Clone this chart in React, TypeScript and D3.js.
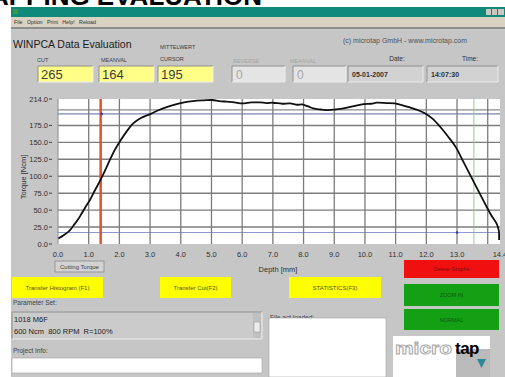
import * as d3 from "d3";

// torque curve
const depth = [0, 0.15, 0.28, 0.4, 0.5, 0.65, 0.77, 0.9, 1.04, 1.2, 1.39, 1.55, 1.69, 1.85, 2.04, 2.25, 2.45, 2.7, 3.02, 3.25, 3.54, 3.75, 4.0, 4.25, 4.52, 4.75, 5.03, 5.25, 5.5, 5.75, 6.0, 6.3, 6.58, 6.8, 7.0, 7.3, 7.56, 7.8, 7.95, 8.15, 8.32, 8.55, 8.8, 9.05, 9.3, 9.6, 9.96, 10.2, 10.38, 10.7, 10.97, 11.2, 11.47, 11.7, 11.95, 12.2, 12.45, 12.7, 12.96, 13.2, 13.46, 13.7, 13.94, 14.12, 14.29, 14.36, 14.37];
const torque = [8, 12, 16, 21, 27, 36, 45, 55, 65, 79, 95, 110, 124, 139, 153, 167, 178, 186, 192, 197, 202, 205, 208, 210, 211.5, 212, 212.5, 211, 210, 209, 207.5, 209, 209, 208, 208.5, 207, 207.5, 205.5, 206, 203, 200, 198.5, 197.5, 198.5, 200, 203, 206.5, 207, 208.5, 208, 207.5, 205, 201.5, 198, 193, 185, 173, 159, 143, 122, 99, 78, 57, 42, 30, 20, 6];

const yTicks = [0, 25, 50, 75, 100, 125, 150, 175, 214];
const xTickLabels = [0, 1, 2, 3, 4, 5, 6, 7, 8, 9, 10, 11, 12, 13, 14.4];
const xGrid = [1, 2, 3, 4, 5, 6, 7, 8, 9, 10, 11, 12, 13, 14];
const cursorLines = [198, 192];
const lowLine = 17;
const cutDepth = 1.39;
const greenDepth = 13.55;

const fieldLabels = ["CUT", "MEANVAL"];
const fieldValues = ["265", "164", "195"];
const yellowButtons = ["Transfer Histogram (F1)", "Transfer Cut(F2)", "STATISTICS(F3)"];

const font = "Arial, 'Liberation Sans', sans-serif";

export default function App() {
  const x = d3.scaleLinear().domain([0, 14.4]).range([58, 500]);
  const y = d3.scaleLinear().domain([0, 214]).range([244, 99]);
  const pts = depth.map((d, i) => [d, torque[i]] as [number, number]);
  const line = d3
    .line<[number, number]>()
    .x((d) => x(d[0]))
    .y((d) => y(d[1]))
    .curve(d3.curveCatmullRom);

  const sunken = (bx: number, by: number, w: number, h: number, fill: string) => (
    <g>
      <rect x={bx} y={by} width={w} height={h} fill={fill} />
      <path d={`M${bx},${by + h}V${by}H${bx + w}`} stroke="#909090" fill="none" />
      <path d={`M${bx + w},${by}V${by + h}H${bx}`} stroke="#ececec" fill="none" />
    </g>
  );

  return (
    <svg
      width={505}
      height={377}
      style={{ position: "absolute", left: 0, top: 0, fontFamily: font }}
    >
      <rect width={505} height={377} fill="#fff" />
      {/* page heading, mostly cut off */}
      <text x={262} y={5} textAnchor="end" fontSize={26} fontWeight="bold" fill="#000">
        TAPPING EVALUATION
      </text>
      {/* window chrome */}
      <rect x={11} y={7} width={494} height={10} fill="#0f8a7a" />
      <rect x={13} y={9} width={5} height={5} fill="#3c9a3c" />
      <rect x={486} y={9} width={5} height={6} fill="#c8c8c0" />
      <rect x={492} y={9} width={5} height={6} fill="#c8c8c0" />
      <rect x={498} y={9} width={6} height={6} fill="#c8c8c0" />
      <rect x={11} y={17} width={494} height={10} fill="#d9d2c2" />
      <text x={14} y={24} fontSize={5.3} fill="#303030" xmlSpace="preserve">
        File   Option   Print   Help!   Reload
      </text>
      <rect x={11} y={27} width={494} height={2} fill="#8e8e8e" />
      <rect x={11} y={29} width={494} height={348} fill="#c6c6c6" />

      {/* header fields */}
      <text x={13} y={48} fontSize={10.5} fill="#202020">WINPCA Data Evaluation</text>
      <text x={343} y={43} fontSize={7} fill="#505050">(c) microtap GmbH - www.microtap.com</text>
      <text x={160} y={49} fontSize={5.5} fill="#404040">MITTELWERT</text>
      <text x={160} y={61} fontSize={5.5} fill="#404040">CURSOR</text>
      {fieldLabels.map((t, i) => (
        <text key={t} x={[37, 101][i]} y={62} fontSize={5.5} fill="#404040">{t}</text>
      ))}
      {fieldValues.map((v, i) => (
        <g key={i}>
          {sunken([38, 99, 158][i], 66, 55, 16, "#ffff88")}
          <text x={[41, 102, 161][i]} y={79} fontSize={13} fill="#404040">{v}</text>
        </g>
      ))}
      <text x={233} y={63} fontSize={5.5} fill="#a4a4a4">REVERSE</text>
      <text x={290} y={63} fontSize={5.5} fill="#a4a4a4">MEANVAL</text>
      {[232, 293].map((bx) => (
        <g key={bx}>
          {sunken(bx, 66, 53, 16, "#e4e4e4")}
          <text x={bx + 4} y={79} fontSize={12} fill="#a8a8a8">0</text>
        </g>
      ))}
      <text x={397} y={61} fontSize={6.5} textAnchor="middle" fill="#303030">Date:</text>
      <text x={470} y={61} fontSize={6.5} textAnchor="middle" fill="#303030">Time:</text>
      {sunken(348, 66, 75, 16, "#d2d2d2")}
      {sunken(427, 66, 71, 16, "#d2d2d2")}
      <text x={352} y={77} fontSize={7} fontWeight="bold" fill="#303030">05-01-2007</text>
      <text x={431} y={77} fontSize={7} fontWeight="bold" fill="#303030">14:07:30</text>

      {/* plot */}
      <rect x={58} y={99} width={442} height={145} fill="#fff" />
      {yTicks.slice(1, -1).map((t) => (
        <line key={t} x1={58} x2={500} y1={y(t)} y2={y(t)} stroke="#7c7c7c" strokeWidth={1.4} />
      ))}
      {cursorLines.map((t, i) => (
        <line key={t} x1={58} x2={500} y1={y(t)} y2={y(t)} stroke={i ? "#7884b0" : "#8a8a8a"} strokeWidth={1.3} />
      ))}
      <line x1={58} x2={500} y1={y(lowLine)} y2={y(lowLine)} stroke="#8c9ad0" strokeWidth={1.2} />
      {xGrid.map((t) => (
        <line key={t} x1={x(t)} x2={x(t)} y1={99} y2={244} stroke="#7c7c7c" strokeWidth={1.3} />
      ))}
      <line x1={x(greenDepth)} x2={x(greenDepth)} y1={99} y2={244} stroke="#8ad08a" strokeWidth={1} />
      <line x1={x(cutDepth)} x2={x(cutDepth)} y1={99} y2={244} stroke="#e2502c" strokeWidth={2.5} />
      <circle cx={x(cutDepth) + 1} cy={y(192)} r={1.3} fill="#3038c0" />
      <circle cx={x(13)} cy={y(lowLine)} r={1.3} fill="#3038c0" />
      <path d={line(pts) ?? ""} fill="none" stroke="#101010" strokeWidth={1.8} />
      <line x1={58} x2={58} y1={99} y2={244} stroke="#8c8c8c" />

      {yTicks.map((t) => (
        <g key={t}>
          <line x1={49} x2={52} y1={y(t)} y2={y(t)} stroke="#404040" />
          <text x={48} y={y(t) + 2.5} fontSize={7.5} textAnchor="end" fill="#303030">
            {t.toFixed(1)}
          </text>
        </g>
      ))}
      {xTickLabels.map((t) => (
        <text key={t} x={x(t)} y={257} fontSize={7.5} textAnchor="middle" fill="#303030">
          {t.toFixed(1)}
        </text>
      ))}
      <text transform="translate(26,177) rotate(-90)" fontSize={7.5} textAnchor="middle" fill="#303030">
        Torque [Ncm]
      </text>
      <text x={278} y={272} fontSize={7.5} textAnchor="middle" fill="#303030">Depth [mm]</text>
      <rect x={55} y={261} width={49} height={11} fill="#d2d2d2" stroke="#8a8a8a" strokeWidth={0.8} />
      <text x={79.5} y={269} fontSize={6} textAnchor="middle" fill="#404040">Cutting Torque</text>

      {/* buttons */}
      <rect x={404} y={260} width={95} height={18} fill="#f01010" />
      <text x={451.5} y={271} fontSize={5.5} textAnchor="middle" fill="#7a1010">Delete Graphs</text>
      {yellowButtons.map((t, i) => {
        const bx = [12, 160, 289][i];
        const w = [91, 71, 92][i];
        return (
          <g key={t}>
            <rect x={bx} y={277} width={w} height={21} fill="#ffff00" />
            <text x={bx + w / 2} y={290} fontSize={6} textAnchor="middle" fill="#505030">{t}</text>
          </g>
        );
      })}
      <rect x={404} y={284} width={95} height={22} fill="#14a014" />
      <text x={451.5} y={297} fontSize={5.5} textAnchor="middle" fill="#0a5a0a">ZOOM IN</text>
      <rect x={404} y={309} width={95} height={21} fill="#14a014" />
      <text x={451.5} y={322} fontSize={5.5} textAnchor="middle" fill="#0a5a0a">NORMAL</text>

      {/* parameter + project */}
      <text x={13} y={305} fontSize={6.5} fill="#404040">Parameter Set:</text>
      {sunken(12, 312, 250, 27, "#cbcbcb")}
      <rect x={253} y={313} width={8} height={25} fill="#c0c0c0" />
      <rect x={254} y={322} width={6} height={10} fill="#ececec" stroke="#909090" strokeWidth={0.5} />
      <text x={14} y={322} fontSize={7.5} fill="#202020">1018 M6F</text>
      <text x={14} y={334} fontSize={7.5} fill="#202020" xmlSpace="preserve">600 Ncm  800 RPM  R=100%</text>
      <text x={13} y={353} fontSize={6.5} fill="#404040">Project Info:</text>
      <rect x={12} y={358} width={250} height={15} fill="#fff" stroke="#a0a0a0" strokeWidth={0.6} />
      <text x={270} y={320} fontSize={6.5} fill="#404040">File act loaded:</text>
      <rect x={269} y={318} width={117} height={59} fill="#fff" stroke="#a0a0a0" strokeWidth={0.6} />

      {/* logo */}
      <rect x={393} y={336} width={97} height={41} fill="#fff" />
      <rect x={456} y={349} width={34} height={28} fill="#bababa" />
      <path d="M477,359L486,359L481.5,368Z" fill="#2a8a98" />
      <text x={395} y={354} fontSize={17} fontWeight="bold" fill="#fff" stroke="#a8a8a8" strokeWidth={0.9} textLength={57} lengthAdjust="spacingAndGlyphs">
        micro
      </text>
      <text x={455} y={354} fontSize={17} fontWeight="bold" fill="#000" letterSpacing={-0.5}>tap</text>
    </svg>
  );
}
